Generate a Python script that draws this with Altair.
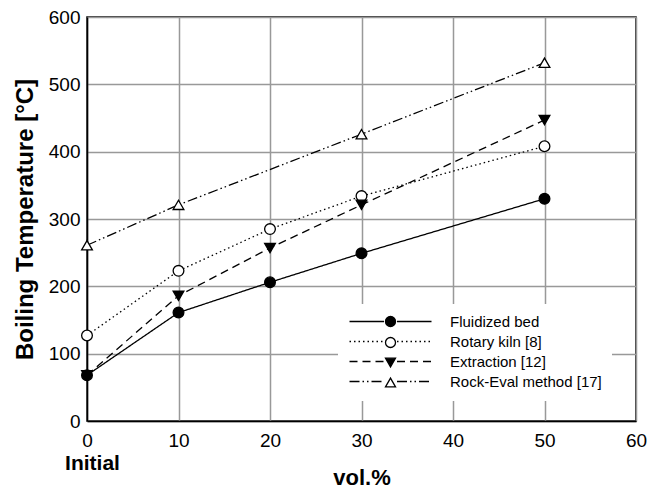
import altair as alt
import pandas as pd

# ---- data ----
series_names = ["Fluidized bed", "Rotary kiln [8]", "Extraction [12]", "Rock-Eval method [17]"]

fluid_x = [0, 10, 20, 30, 50]
fluid_y = [68, 161, 206, 249, 330]

rotary_x = [0, 10, 20, 30, 50]
rotary_y = [127, 223, 285, 334, 408]

extract_x = [0, 10, 20, 30, 50]
extract_y = [68, 186, 257, 321, 447]

rock_x = [0, 10, 30, 50]
rock_y = [261, 321, 426, 532]

x_ticks = [0, 10, 20, 30, 40, 50, 60]
y_ticks = [0, 100, 200, 300, 400, 500, 600]
initial_tick = [0]

# ---- styles ----
dash_styles = [[1, 0], [1.5, 3], [8, 5], [10, 3, 1.5, 3, 1.5, 3]]
marker_shapes = ["circle", "circle", "triangle-down", "triangle-up"]
marker_fills = ["black", "white", "black", "white"]
marker_strokes = ["black", "black", "black", "black"]
FONT = "Liberation Sans"

rows = []
for name, xs, ys in zip(series_names,
                        [fluid_x, rotary_x, extract_x, rock_x],
                        [fluid_y, rotary_y, extract_y, rock_y]):
    for xv, yv in zip(xs, ys):
        rows.append({"series": name, "x": xv, "y": yv})
df = pd.DataFrame(rows)

# line-style key (trailing space keeps its legend separate from the marker legend)
line_keys = [n + " " for n in series_names]

x_scale = alt.Scale(domain=[0, 60], nice=False, zero=True)
y_scale = alt.Scale(domain=[0, 600], nice=False)

y_enc = alt.Y(
    "y:Q", scale=y_scale,
    axis=alt.Axis(values=y_ticks, title="Boiling Temperature [°C]",
                  titleFont=FONT, titleFontSize=24, titleFontWeight="bold",
                  titleColor="black", titlePadding=11,
                  labelFont=FONT, labelFontSize=19, labelColor="black",
                  labelPadding=7, labelFlush=False, ticks=False,
                  domainColor="black", domainWidth=1.5,
                  grid=True, gridColor="#999999", gridWidth=1.5),
)

legend_common = dict(
    orient="none", legendX=251, legendY=287, padding=10,
    symbolSize=100, symbolStrokeWidth=1.3, symbolStrokeColor="black",
    symbolOffset=35, labelOffset=52, labelFont=FONT, labelFontSize=15,
    labelColor="black", rowPadding=4,
)

line_legend = alt.Legend(symbolType="M-8.2,0H-1.3M1.3,0H8.2",
                         symbolFillColor="transparent", zindex=2,
                         **legend_common)
marker_legend = alt.Legend(labelOpacity=0, fillColor="white", zindex=1,
                           **legend_common)

lines = alt.Chart(df).transform_calculate(key="datum.series + ' '").mark_line(
    color="black", strokeWidth=1.3
).encode(
    x=alt.X("x:Q", scale=x_scale,
            axis=alt.Axis(values=x_ticks, orient="bottom", title="vol.%",
                          titleFont=FONT, titleFontSize=22, titleFontWeight="bold",
                          titleColor="black", titlePadding=17,
                          labelFont=FONT, labelFontSize=19, labelColor="black",
                          labelPadding=10, labelFlush=False, ticks=False,
                          domainColor="black", domainWidth=1.5,
                          grid=True, gridColor="#999999", gridWidth=1.5)),
    y=y_enc,
    strokeDash=alt.StrokeDash("key:N", sort=line_keys, title=None,
                              scale=alt.Scale(domain=line_keys, range=dash_styles),
                              legend=line_legend),
)

points = alt.Chart(df).mark_point(
    filled=True, size=115, strokeWidth=1.3, opacity=1
).encode(
    x=alt.X("x:Q", scale=x_scale,
            axis=alt.Axis(values=initial_tick, orient="bottom", title=None,
                          labelExpr="'Initial'", labelFont=FONT, labelFontSize=21,
                          labelFontWeight="bold", labelColor="black",
                          labelPadding=31, labelOffset=5, labelFlush=False,
                          domain=False, ticks=False, grid=False)),
    y=y_enc,
    shape=alt.Shape("series:N", sort=series_names, title=None,
                    scale=alt.Scale(domain=series_names, range=marker_shapes),
                    legend=marker_legend),
    fill=alt.Fill("series:N", sort=series_names, title=None,
                  scale=alt.Scale(domain=series_names, range=marker_fills),
                  legend=marker_legend),
    stroke=alt.Stroke("series:N", sort=series_names, title=None,
                      scale=alt.Scale(domain=series_names, range=marker_strokes),
                      legend=marker_legend),
)

chart = alt.layer(lines, points).resolve_axis(x="independent").properties(
    width=549, height=404,
    autosize=alt.AutoSizeParams(type="none"),
    padding={"left": 87, "top": 17, "right": 12, "bottom": 71},
    background="white",
).configure_view(stroke="black", strokeWidth=1.5)

chart.save("out.html", embed_options={"renderer": "svg", "actions": False})
